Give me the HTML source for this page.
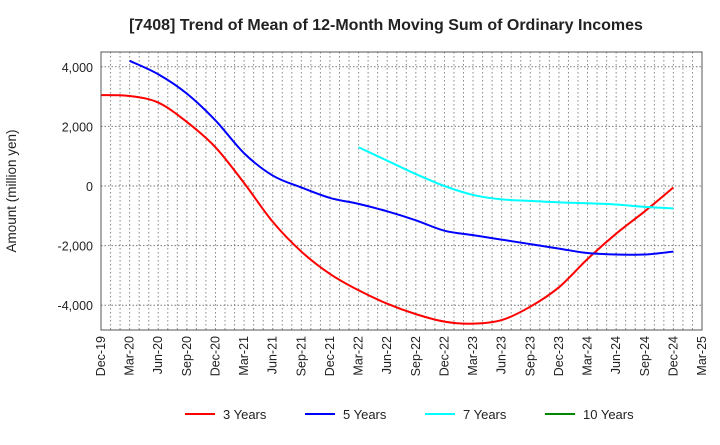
<!DOCTYPE html>
<html><head><meta charset="utf-8"><style>
body{margin:0;background:#fff;font-family:"Liberation Sans",sans-serif}
</style></head><body>
<svg id="c" width="720" height="440" xmlns="http://www.w3.org/2000/svg">
<text x="386" y="30" text-anchor="middle" font-size="16" font-weight="bold" fill="#222">[7408]  Trend of Mean of 12-Month Moving Sum of Ordinary Incomes</text>
<text transform="translate(16,191) rotate(-90)" text-anchor="middle" font-size="13.5" fill="#222">Amount (million yen)</text>
<g id="grid"></g><g id="ticks"></g><g id="lines"></g>
<rect x="101" y="52" width="601" height="278" fill="none" stroke="#555" stroke-width="1"/>
<g id="legend"></g>
</svg>
<script>
const xLabels=["Dec-19","Mar-20","Jun-20","Sep-20","Dec-20","Mar-21","Jun-21","Sep-21","Dec-21","Mar-22","Jun-22","Sep-22","Dec-22","Mar-23","Jun-23","Sep-23","Dec-23","Mar-24","Jun-24","Sep-24","Dec-24","Mar-25"];
const yTicks=[4000,2000,0,-2000,-4000];
const s3=[3050,3020,2800,2150,1300,100,-1200,-2200,-2950,-3500,-3950,-4300,-4550,-4620,-4500,-4050,-3400,-2450,-1600,-850,-50];
const s3Start=0;
const s5=[4200,3750,3100,2200,1100,350,-50,-400,-600,-850,-1150,-1500,-1650,-1800,-1950,-2100,-2250,-2300,-2300,-2200];
const s5Start=1;
const s7=[1300,850,400,0,-300,-450,-500,-550,-580,-620,-700,-750];
const s7Start=9;
const s10=[];
const NS="http://www.w3.org/2000/svg";
const X=i=>101+i*3*601/63, Xm=m=>101+m*601/63, Y=v=>186-v*0.0298;
function mk(t,a,p){const e=document.createElementNS(NS,t);for(const k in a)e.setAttribute(k,a[k]);p.appendChild(e);return e;}
const g=document.getElementById('grid'),tk=document.getElementById('ticks'),ln=document.getElementById('lines'),lg=document.getElementById('legend');
for(let m=1;m<63;m++){const l=mk('line',{x1:Xm(m),x2:Xm(m),y1:52,y2:330,stroke:'#888','stroke-dasharray':'1.5,2.5','stroke-width':1},g);

}
yTicks.forEach(v=>{const l=mk('line',{x1:101,x2:702,y1:Y(v),y2:Y(v),stroke:'#777','stroke-dasharray':'1.5,2','stroke-width':1},g);


const t=mk('text',{x:93,y:Y(v)+5,'text-anchor':'end','font-size':12.5,fill:'#222'},tk);t.textContent=v.toLocaleString('en-US');

});
xLabels.forEach((s,i)=>{const t=mk('text',{transform:`translate(${X(i)+4},336) rotate(-90)`,'text-anchor':'end','font-size':12.5,fill:'#222'},tk);t.textContent=s;

});
function path(arr,st){const p=arr.map((v,i)=>[X(st+i),Y(v)]);if(p.length<2)return '';let d=`M${p[0][0]},${p[0][1]}`;
for(let i=0;i<p.length-1;i++){const p0=p[i-1]||p[i],p1=p[i],p2=p[i+1],p3=p[i+2]||p2;
d+=`C${p1[0]+(p2[0]-p0[0])/6},${p1[1]+(p2[1]-p0[1])/6} ${p2[0]-(p3[0]-p1[0])/6},${p2[1]-(p3[1]-p1[1])/6} ${p2[0]},${p2[1]}`;}return d;}
[[s3,s3Start,'#f00','line-3-years'],[s5,s5Start,'#00f','line-5-years'],[s7,s7Start,'#0ff','line-7-years'],[s10,0,'#080','line-10-years']].forEach(([a,st,c,n])=>{
if(!a.length)return;const e=mk('path',{d:path(a,st),fill:'none',stroke:c,'stroke-width':2},ln);

});
[['3 Years','#f00',185],['5 Years','#00f',305],['7 Years','#0ff',425],['10 Years','#080',545]].forEach(([s,c,x])=>{
const l=mk('line',{x1:x,x2:x+30,y1:414,y2:414,stroke:c,'stroke-width':2},lg);


const t=mk('text',{x:x+38,y:419,'font-size':13,fill:'#222'},lg);t.textContent=s;

});
</script>
</body></html>
